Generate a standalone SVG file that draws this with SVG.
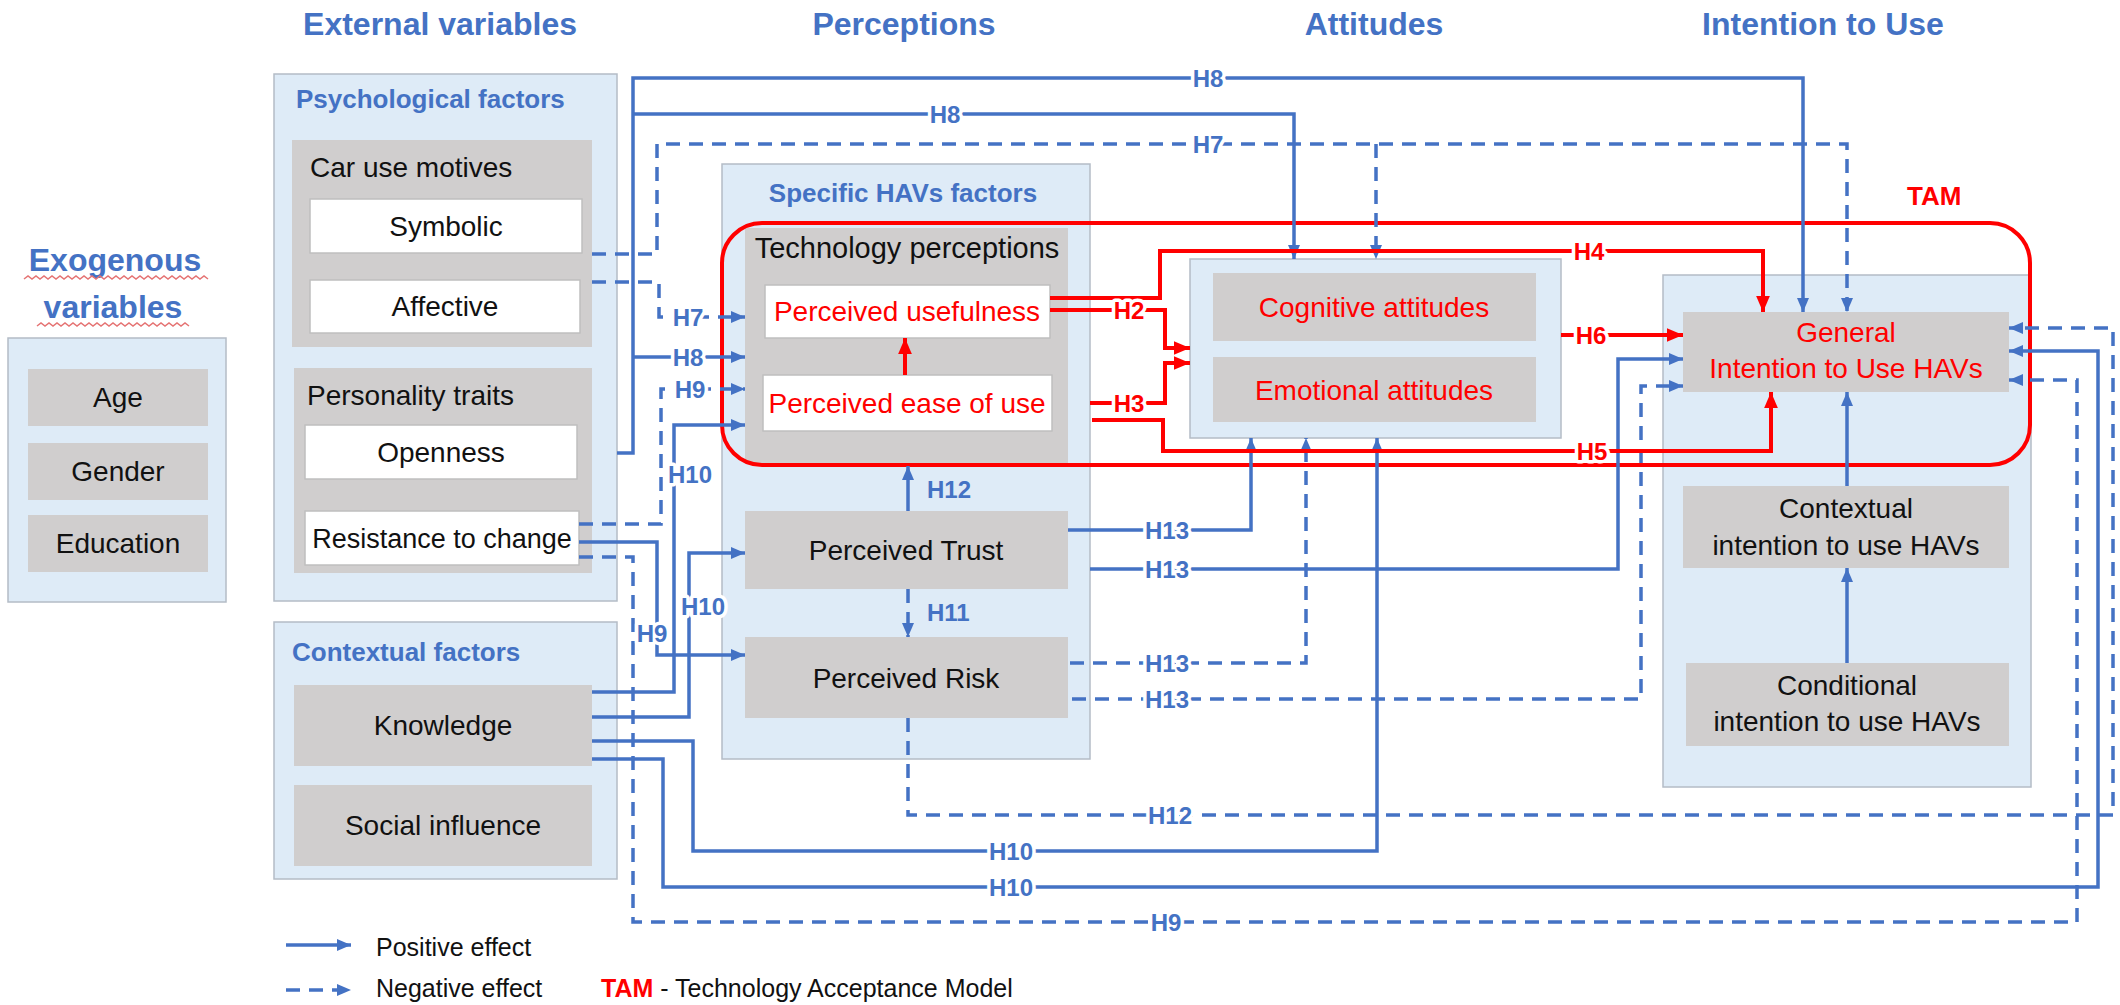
<svg xmlns="http://www.w3.org/2000/svg" width="2120" height="1005" viewBox="0 0 2120 1005">
<defs>
<style>
text{font-family:"Liberation Sans",Arial,sans-serif}
.title{font-size:32px;font-weight:bold;fill:#4472C4;text-anchor:middle}
.gt{font-size:26px;font-weight:bold;fill:#4472C4}
.cont{fill:#DEEBF7;stroke:#B4BCC6;stroke-width:1.5}
.grey{fill:#D0CECE}
.white{fill:#FFFFFF;stroke:#BFBFBF;stroke-width:1.5}
.nt{font-size:28px;fill:#111;text-anchor:middle}
.nl{font-size:28px;fill:#111}
.rt{font-size:28px;fill:#FF0000;text-anchor:middle}
.b{fill:none;stroke:#4472C4;stroke-width:3.5}
.bd{fill:none;stroke:#4472C4;stroke-width:3.5;stroke-dasharray:14 9}
.r{fill:none;stroke:#FF0000;stroke-width:4}
.lb{font-size:24px;font-weight:bold;fill:#4472C4;text-anchor:middle;paint-order:stroke;stroke:#FFFFFF;stroke-width:7;stroke-linejoin:round}
.lbn{font-size:24px;font-weight:bold;fill:#4472C4}
.lr{font-size:24px;font-weight:bold;fill:#FF0000;text-anchor:middle;paint-order:stroke;stroke:#FFFFFF;stroke-width:7;stroke-linejoin:round}
.leg{font-size:25px;fill:#111}
</style>
<marker id="ab" viewBox="0 0 14 12" refX="14" refY="6" markerWidth="14" markerHeight="12" markerUnits="userSpaceOnUse" orient="auto"><path d="M0,0 L14,6 L0,12 z" fill="#4472C4"/></marker>
<marker id="ar" viewBox="0 0 14 12" refX="14" refY="6" markerWidth="16" markerHeight="14" markerUnits="userSpaceOnUse" orient="auto"><path d="M0,0 L14,6 L0,12 z" fill="#FF0000"/></marker>
</defs>
<rect width="2120" height="1005" fill="#FFFFFF"/>

<g id="titles">
<text class="title" x="440" y="35">External variables</text>
<text class="title" x="904" y="35">Perceptions</text>
<text class="title" x="1374" y="35">Attitudes</text>
<text class="title" x="1823" y="35">Intention to Use</text>
</g>

<g id="exogenous">
<text class="title" x="115" y="271">Exogenous</text>
<text class="title" x="113" y="318">variables</text>
<path d="M24,279 l4,-3 l4,3 l4,-3 l4,3 l4,-3 l4,3 l4,-3 l4,3 l4,-3 l4,3 l4,-3 l4,3 l4,-3 l4,3 l4,-3 l4,3 l4,-3 l4,3 l4,-3 l4,3 l4,-3 l4,3 l4,-3 l4,3 l4,-3 l4,3 l4,-3 l4,3 l4,-3 l4,3 l4,-3 l4,3 l4,-3 l4,3 l4,-3 l4,3 l4,-3 l4,3 l4,-3 l4,3 l4,-3 l4,3 l4,-3 l4,3 l4,-3 l4,3" fill="none" stroke="#E57373" stroke-width="1.5"/>
<path d="M37,326 l4,-3 l4,3 l4,-3 l4,3 l4,-3 l4,3 l4,-3 l4,3 l4,-3 l4,3 l4,-3 l4,3 l4,-3 l4,3 l4,-3 l4,3 l4,-3 l4,3 l4,-3 l4,3 l4,-3 l4,3 l4,-3 l4,3 l4,-3 l4,3 l4,-3 l4,3 l4,-3 l4,3 l4,-3 l4,3 l4,-3 l4,3 l4,-3 l4,3 l4,-3 l4,3" fill="none" stroke="#E57373" stroke-width="1.5"/>
<rect class="cont" x="8" y="338" width="218" height="264"/>
<g id="age"><rect class="grey" x="28" y="369" width="180" height="57"/><text class="nt" x="118" y="407">Age</text></g>
<g id="gender"><rect class="grey" x="28" y="443" width="180" height="57"/><text class="nt" x="118" y="481">Gender</text></g>
<g id="education"><rect class="grey" x="28" y="515" width="180" height="57"/><text class="nt" x="118" y="553">Education</text></g>
</g>

<g id="psychological">
<rect class="cont" x="274" y="74" width="343" height="527"/>
<text class="gt" x="296" y="108">Psychological factors</text>
<g id="car-use-motives"><rect class="grey" x="292" y="140" width="300" height="207"/><text class="nl" x="310" y="177">Car use motives</text></g>
<g id="symbolic"><rect class="white" x="310" y="199" width="272" height="54"/><text class="nt" x="446" y="236">Symbolic</text></g>
<g id="affective"><rect class="white" x="310" y="280" width="270" height="53"/><text class="nt" x="445" y="316">Affective</text></g>
<g id="personality-traits"><rect class="grey" x="294" y="368" width="298" height="205"/><text class="nl" x="307" y="405">Personality traits</text></g>
<g id="openness"><rect class="white" x="305" y="425" width="272" height="54"/><text class="nt" x="441" y="462">Openness</text></g>
<g id="resistance"><rect class="white" x="305" y="511" width="274" height="54"/><text class="nt" x="442" y="548" style="font-size:27px">Resistance to change</text></g>
</g>

<g id="contextual">
<rect class="cont" x="274" y="622" width="343" height="257"/>
<text class="gt" x="292" y="661">Contextual factors</text>
<g id="knowledge"><rect class="grey" x="294" y="685" width="298" height="81"/><text class="nt" x="443" y="735">Knowledge</text></g>
<g id="social-influence"><rect class="grey" x="294" y="785" width="298" height="81"/><text class="nt" x="443" y="835">Social influence</text></g>
</g>

<g id="specific">
<rect class="cont" x="722" y="164" width="368" height="595"/>
<text class="gt" x="903" y="202" text-anchor="middle">Specific HAVs factors</text>
<g id="technology-perceptions"><rect class="grey" x="745" y="228" width="323" height="235"/><text class="nt" x="907" y="258" style="font-size:29px">Technology perceptions</text></g>
<g id="perceived-usefulness"><rect class="white" x="765" y="285" width="285" height="53"/><text class="rt" x="907" y="321">Perceived usefulness</text></g>
<g id="perceived-ease"><rect class="white" x="763" y="375" width="289" height="56"/><text class="rt" x="907" y="413">Perceived ease of use</text></g>
<g id="perceived-trust"><rect class="grey" x="745" y="511" width="323" height="78"/><text class="nt" x="906" y="560">Perceived Trust</text></g>
<g id="perceived-risk"><rect class="grey" x="745" y="637" width="323" height="81"/><text class="nt" x="906" y="688">Perceived Risk</text></g>
</g>

<g id="attitudes">
<rect class="cont" x="1190" y="259" width="371" height="179"/>
<g id="cognitive"><rect class="grey" x="1213" y="273" width="323" height="68"/><text class="rt" x="1374" y="317">Cognitive attitudes</text></g>
<g id="emotional"><rect class="grey" x="1213" y="357" width="323" height="65"/><text class="rt" x="1374" y="400">Emotional attitudes</text></g>
</g>

<g id="intention">
<rect class="cont" x="1663" y="275" width="368" height="512"/>
<g id="general-intention"><rect class="grey" x="1683" y="312" width="326" height="80"/><text class="rt" x="1846" y="342">General</text><text class="rt" x="1846" y="378">Intention to Use HAVs</text></g>
<g id="contextual-intention"><rect class="grey" x="1683" y="486" width="326" height="82"/><text class="nt" x="1846" y="518">Contextual</text><text class="nt" x="1846" y="555">intention to use HAVs</text></g>
<g id="conditional-intention"><rect class="grey" x="1686" y="663" width="323" height="83"/><text class="nt" x="1847" y="695">Conditional</text><text class="nt" x="1847" y="731">intention to use HAVs</text></g>
</g>

<g id="tam">
<rect x="722" y="223" width="1308" height="242" rx="40" ry="40" fill="none" stroke="#FF0000" stroke-width="4"/>
<text x="1907" y="205" style="font-size:26px;font-weight:bold;fill:#FF0000">TAM</text>
</g>

<g id="connectors">
<!-- blue solid -->
<path class="b" d="M617,453 H633 V78 H1803 V312" marker-end="url(#ab)"/>
<path class="b" d="M633,114 H1294 V259" marker-end="url(#ab)"/>
<path class="b" d="M633,357 H745" marker-end="url(#ab)"/>
<path class="b" d="M592,692 H674 V425 H745" marker-end="url(#ab)"/>
<path class="b" d="M592,717 H689 V553 H745" marker-end="url(#ab)"/>
<path class="b" d="M592,741 H693 V851 H1377 V438" marker-end="url(#ab)"/>
<path class="b" d="M592,759 H663 V887 H2098 V351 H2009" marker-end="url(#ab)"/>
<path class="b" d="M579,542 H657 V655 H745" marker-end="url(#ab)"/>
<path class="b" d="M1068,530 H1251 V438" marker-end="url(#ab)"/>
<path class="b" d="M1090,569 H1618 V359 H1683" marker-end="url(#ab)"/>
<path class="b" d="M908,511 V466" marker-end="url(#ab)"/>
<path class="b" d="M1847,486 V392" marker-end="url(#ab)"/>
<path class="b" d="M1847,663 V568" marker-end="url(#ab)"/>
<!-- blue dashed -->
<path class="bd" d="M592,254 H657 V144 H1847 V312" marker-end="url(#ab)"/>
<path class="bd" d="M1376,144 V259" marker-end="url(#ab)"/>
<path class="bd" d="M592,282 H659 V317 H745" marker-end="url(#ab)"/>
<path class="bd" d="M579,524 H661 V389 H745" marker-end="url(#ab)"/>
<path class="bd" d="M579,557 H633 V922 H2077 V380 H2009" marker-end="url(#ab)"/>
<path class="bd" d="M908,589 V637" marker-end="url(#ab)"/>
<path class="bd" d="M908,718 V815 H2113 V328 H2009" marker-end="url(#ab)"/>
<path class="bd" d="M1070,663 H1306 V438" marker-end="url(#ab)"/>
<path class="bd" d="M1072,699 H1641 V386 H1683" marker-end="url(#ab)"/>
<!-- red -->
<path class="r" d="M1050,298 H1160 V251 H1763 V312" marker-end="url(#ar)"/>
<path class="r" d="M1050,310 H1165 V348 H1190" marker-end="url(#ar)"/>
<path class="r" d="M1090,403 H1165 V363 H1190" marker-end="url(#ar)"/>
<path class="r" d="M1092,420 H1163 V451 H1771 V392" marker-end="url(#ar)"/>
<path class="r" d="M1561,335 H1683" marker-end="url(#ar)"/>
<path class="r" d="M905,375 V338" marker-end="url(#ar)"/>
<!-- labels -->
<text class="lb" x="1208" y="87">H8</text>
<text class="lb" x="945" y="123">H8</text>
<text class="lb" x="688" y="366">H8</text>
<text class="lb" x="1208" y="153">H7</text>
<text class="lb" x="688" y="326">H7</text>
<text class="lb" x="690" y="398">H9</text>
<text class="lb" x="652" y="642">H9</text>
<text class="lb" x="1166" y="931">H9</text>
<text class="lb" x="690" y="483">H10</text>
<text class="lb" x="703" y="615">H10</text>
<text class="lb" x="1011" y="860">H10</text>
<text class="lb" x="1011" y="896">H10</text>
<text class="lb" x="1170" y="824">H12</text>
<text class="lb" x="1167" y="539">H13</text>
<text class="lb" x="1167" y="578">H13</text>
<text class="lb" x="1167" y="672">H13</text>
<text class="lb" x="1167" y="708">H13</text>
<text class="lbn" x="927" y="498">H12</text>
<text class="lbn" x="927" y="621">H11</text>
<text class="lr" x="1589" y="260">H4</text>
<text class="lr" x="1129" y="319">H2</text>
<text class="lr" x="1129" y="412">H3</text>
<text class="lr" x="1592" y="460">H5</text>
<text class="lr" x="1591" y="344">H6</text>
</g>

<g id="legend">
<path class="b" d="M286,945 H351" marker-end="url(#ab)"/>
<text class="leg" x="376" y="956">Positive effect</text>
<path class="bd" d="M286,990 H351" marker-end="url(#ab)"/>
<text class="leg" x="376" y="997">Negative effect</text>
<text class="leg" x="601" y="997"><tspan style="fill:#FF0000;font-weight:bold">TAM</tspan> - Technology Acceptance Model</text>
</g>
</svg>
